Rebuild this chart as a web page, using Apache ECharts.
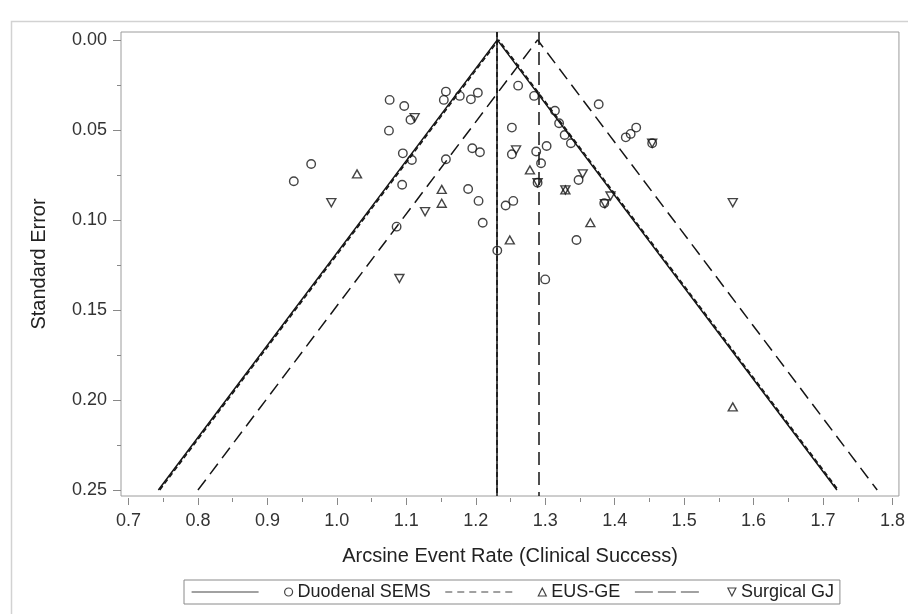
<!DOCTYPE html>
<html>
<head>
<meta charset="utf-8">
<script src="https://cdn.jsdelivr.net/npm/echarts@6/dist/echarts.min.js"></script>
<style>
html,body{margin:0;padding:0;background:#fff;}
#chart{width:908px;height:614px;}
</style>
</head>
<body>
<div id="chart"></div>
<script>
// ---- data ----
const groups = ['Duodenal SEMS', 'EUS-GE', 'Surgical GJ'];

// Duodenal SEMS (circles): arcsine event rate, standard error
const semsX  = [1.076,1.097,1.106,1.075,0.963,0.938,1.095,1.108,1.094,1.086,1.157,1.154,1.157,1.177,1.193,1.203,1.261,1.284,1.377,1.314,1.320,1.328,1.337,1.252,1.416,1.423,1.431,1.454,1.195,1.206,1.252,1.287,1.302,1.294,1.289,1.348,1.385,1.189,1.204,1.210,1.243,1.254,1.345,1.231,1.300];
const semsSE = [0.0333,0.0367,0.0444,0.0504,0.0689,0.0785,0.0630,0.0667,0.0804,0.1037,0.0287,0.0333,0.0663,0.0311,0.0330,0.0293,0.0254,0.0311,0.0357,0.0393,0.0463,0.0528,0.0574,0.0487,0.0541,0.0522,0.0487,0.0574,0.0602,0.0624,0.0635,0.0620,0.0589,0.0685,0.0793,0.0778,0.0907,0.0828,0.0894,0.1015,0.0920,0.0894,0.1111,0.1170,0.1330];

// EUS-GE (up triangles)
const eusX  = [1.029,1.151,1.151,1.278,1.329,1.365,1.249,1.570];
const eusSE = [0.0744,0.0830,0.0907,0.0722,0.0833,0.1015,0.1111,0.2038];

// Surgical GJ (down triangles)
const gjX  = [1.112,0.992,1.127,1.090,1.258,1.289,1.329,1.354,1.386,1.394,1.454,1.570];
const gjSE = [0.0432,0.0904,0.0954,0.1325,0.0611,0.0793,0.0833,0.0744,0.0910,0.0867,0.0574,0.0904];

// pooled estimates and funnel limits (at SE = 0.25)
const pooled      = [1.231, 1.233, 1.289];
const funnelLower = [0.743, 0.745, 0.800];
const funnelUpper = [1.720, 1.722, 1.778];
const funnelSE    = 0.25;

// axis ticks
const xTickValues      = [0.7,0.8,0.9,1.0,1.1,1.2,1.3,1.4,1.5,1.6,1.7,1.8];
const xMinorTickValues = [0.75,0.85,0.95,1.05,1.15,1.25,1.35,1.45,1.55,1.65,1.75];
const yTickValues      = [0,0.05,0.10,0.15,0.20,0.25];
const yMinorTickValues = [0.025,0.075,0.125,0.175,0.225];

// ---- styling ----
const INK = '#151515';
const FONT = '"Liberation Sans", Arial, sans-serif';
const lineTypes = ['solid', [5, 3], [13, 7]];
const symbols = ['circle', 'triangle', 'triangle'];
const symbolRot = [0, 0, 180];
const symbolSizes = [8.5, [9, 8], [9, 8]];

const pts = [
  semsX.map((x, i) => [x, semsSE[i]]),
  eusX.map((x, i) => [x, eusSE[i]]),
  gjX.map((x, i) => [x, gjSE[i]])
];

// legend icons: line sample + marker (W=101, H=8)
const legendIcons = [
  'path://M0 4 L67 4 M101 4 A4 4 0 1 1 93 4 A4 4 0 1 1 101 4 Z',
  'path://M0 4 L7 4 M12 4 L19 4 M24 4 L31 4 M36 4 L43 4 M48 4 L55 4 M60 4 L67 4 M93 8 L97 0 L101 8 Z',
  'path://M0 4 L18 4 M23 4 L41 4 M46 4 L64 4 M93 0 L101 0 L97 8 Z'
];

const series = [];
groups.forEach((g, k) => {
  series.push({
    name: g, type: 'scatter', data: pts[k],
    symbol: symbols[k], symbolRotate: symbolRot[k], symbolSize: symbolSizes[k],
    itemStyle: { color: 'rgba(0,0,0,0)', borderColor: INK, borderWidth: 1.4 },
    silent: true, z: 5
  });
  series.push({
    name: g, type: 'line',
    data: [[funnelLower[k], funnelSE], [pooled[k], 0], [funnelUpper[k], funnelSE]],
    symbol: 'none', showSymbol: false,
    lineStyle: { color: INK, width: 1.5, type: lineTypes[k] },
    silent: true, z: 3,
    markLine: {
      silent: true, symbol: ['none', 'none'], label: { show: false },
      lineStyle: { color: INK, width: 1.5, type: lineTypes[k] },
      data: [{ xAxis: pooled[k] }]
    }
  });
});

const chart = echarts.init(document.getElementById('chart'), null, { renderer: 'canvas' });
chart.setOption({
  animation: false,
  backgroundColor: '#fff',
  textStyle: { fontFamily: FONT },
  graphic: [{
    type: 'rect', silent: true, z: -10,
    shape: { x: 11.5, y: 21.5, width: 1000, height: 1000 },
    style: { fill: 'none', stroke: '#d2d2d2', lineWidth: 1.5 }
  }],
  grid: {
    left: 121, right: 7, top: 32, bottom: 118,
    show: true, borderColor: '#9c9c9c', borderWidth: 1, backgroundColor: '#fff'
  },
  legend: {
    left: 184, top: 580,
    padding: [3, 6, 3, 7],
    itemGap: 14, itemWidth: 101, itemHeight: 8,
    borderColor: '#8a8a8a', borderWidth: 1,
    selectedMode: false,
    textStyle: { fontSize: 18, color: '#222', fontFamily: FONT },
    itemStyle: { color: 'rgba(0,0,0,0)', borderColor: INK, borderWidth: 1.2 },
    data: groups.map((g, k) => ({ name: g, icon: legendIcons[k] }))
  },
  xAxis: [{
    type: 'value', min: 0.6892, max: 1.8093, offset: 2, position: 'bottom',
    name: 'Arcsine Event Rate (Clinical Success)', nameLocation: 'middle', nameGap: 48,
    nameTextStyle: { fontSize: 20, color: '#222', fontFamily: FONT },
    axisLine: { show: false, onZero: false },
    axisTick: { show: true, length: 7, customValues: xTickValues, lineStyle: { color: '#888' } },
    axisLabel: { customValues: xTickValues, margin: 14, fontSize: 18, color: '#333',
      formatter: v => v.toFixed(1) },
    splitLine: { show: false }
  }, {
    type: 'value', min: 0.6892, max: 1.8093, offset: 2, position: 'bottom',
    axisLine: { show: false, onZero: false },
    axisTick: { show: true, length: 4, customValues: xMinorTickValues, lineStyle: { color: '#888' } },
    axisLabel: { show: false }, splitLine: { show: false }
  }],
  yAxis: [{
    type: 'value', inverse: true, min: -0.0044, max: 0.2533, position: 'left',
    name: 'Standard Error', nameLocation: 'middle', nameGap: 72,
    nameTextStyle: { fontSize: 20, color: '#222', fontFamily: FONT },
    axisLine: { show: false, onZero: false },
    axisTick: { show: true, length: 8, customValues: yTickValues, lineStyle: { color: '#888' } },
    axisLabel: { customValues: yTickValues, margin: 14, fontSize: 18, color: '#333',
      formatter: v => v.toFixed(2) },
    splitLine: { show: false }
  }, {
    type: 'value', inverse: true, min: -0.0044, max: 0.2533, position: 'left',
    axisLine: { show: false, onZero: false },
    axisTick: { show: true, length: 4, customValues: yMinorTickValues, lineStyle: { color: '#888' } },
    axisLabel: { show: false }, splitLine: { show: false }
  }],
  series: series
});
</script>
</body>
</html>
